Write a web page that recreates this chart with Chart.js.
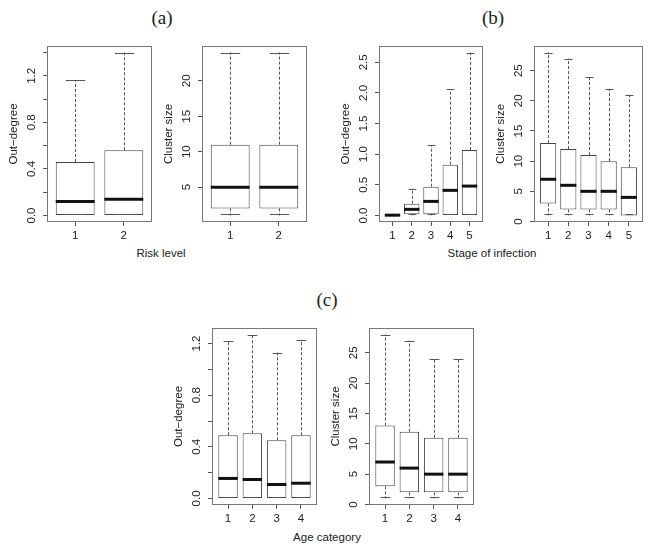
<!DOCTYPE html>
<html>
<head>
<meta charset="utf-8">
<script src="https://cdn.jsdelivr.net/npm/chart.js@4.4.1/dist/chart.umd.min.js"></script>
<style>
  body { margin: 0; background: #fff; }
  #page { position: relative; width: 649px; height: 552px; overflow: hidden;
          font-family: "Liberation Sans", Arial, sans-serif; color: #222; }
  canvas { position: absolute; }
  .tag { position: absolute; font-family: "Liberation Serif", serif; font-size: 19px;
         transform: translate(-50%, -50%); white-space: nowrap; }
  .xlab { position: absolute; font-size: 11.5px; transform: translate(-50%, -50%); white-space: nowrap; }
</style>
</head>
<body>
<div id="page">
  <div class="tag" style="left:162px;top:18px">(a)</div>
  <div class="tag" style="left:493px;top:18px">(b)</div>
  <div class="tag" style="left:327px;top:300px">(c)</div>
  <div class="xlab" style="left:161px;top:253px">Risk level</div>
  <div class="xlab" style="left:492px;top:253px">Stage of infection</div>
  <div class="xlab" style="left:327px;top:537px">Age category</div>
  <canvas id="aOut"></canvas>
  <canvas id="aClu"></canvas>
  <canvas id="bOut"></canvas>
  <canvas id="bClu"></canvas>
  <canvas id="cOut"></canvas>
  <canvas id="cClu"></canvas>
</div>
<script>
// categories
const riskLevels = ['1', '2'];
const stages = ['1', '2', '3', '4', '5'];
const ageCategories = ['1', '2', '3', '4'];

// (a) out-degree by risk level: lower whisker, Q1, median, Q3, upper whisker
const outRiskLow = [0, 0];
const outRiskQ1 = [0, 0];
const outRiskMed = [0.12, 0.14];
const outRiskQ3 = [0.46, 0.56];
const outRiskHigh = [1.16, 1.40];
// (a) cluster size by risk level
const cluRiskLow = [1, 1];
const cluRiskQ1 = [2, 2];
const cluRiskMed = [5, 5];
const cluRiskQ3 = [11, 11];
const cluRiskHigh = [24, 24];

// (b) out-degree by stage of infection
const outStageLow = [0, 0, 0, 0, 0];
const outStageQ1 = [0, 0.02, 0.02, 0, 0];
const outStageMed = [0.005, 0.10, 0.23, 0.41, 0.48];
const outStageQ3 = [0.015, 0.19, 0.47, 0.83, 1.07];
const outStageHigh = [0.03, 0.44, 1.15, 2.06, 2.66];
// (b) cluster size by stage of infection
const cluStageLow = [1, 1, 1, 1, 1];
const cluStageQ1 = [3, 2, 2, 2, 1];
const cluStageMed = [7, 6, 5, 5, 4];
const cluStageQ3 = [13, 12, 11, 10, 9];
const cluStageHigh = [28, 27, 24, 22, 21];

// (c) out-degree by age category
const outAgeLow = [0, 0, 0, 0];
const outAgeQ1 = [0, 0, 0, 0];
const outAgeMed = [0.155, 0.147, 0.108, 0.118];
const outAgeQ3 = [0.49, 0.505, 0.45, 0.49];
const outAgeHigh = [1.22, 1.27, 1.13, 1.23];
// (c) cluster size by age category
const cluAgeLow = [1, 1, 1, 1];
const cluAgeQ1 = [3, 2, 2, 2];
const cluAgeMed = [7, 6, 5, 5];
const cluAgeQ3 = [13, 12, 11, 11];
const cluAgeHigh = [28, 27, 24, 24];

// tick values and labels
const outTicksA = [0, 0.2, 0.4, 0.6, 0.8, 1.0, 1.2, 1.4];
const outLabelsA = ['0.0', '', '0.4', '', '0.8', '', '1.2', ''];
const cluTicksA = [5, 10, 15, 20];
const cluLabelsA = ['5', '10', '15', '20'];
const outTicksB = [0, 0.5, 1.0, 1.5, 2.0, 2.5];
const outLabelsB = ['0.0', '0.5', '1.0', '1.5', '2.0', '2.5'];
const cluTicksBC = [0, 5, 10, 15, 20, 25];
const cluLabelsBC = ['0', '5', '10', '15', '20', '25'];
const outTicksC = [0, 0.2, 0.4, 0.6, 0.8, 1.0, 1.2];
const outLabelsC = ['0.0', '', '0.4', '', '0.8', '', '1.2'];

const FONT = '"Liberation Sans", Arial, sans-serif';
const AXIS_W = 45, AXIS_H = 40;

function makePanel(id, box, cats, low, q1, med, q3, high, yTicks, yLabels, yTitle) {
  const [L, T, R, B] = box;
  const canvas = document.getElementById(id);
  canvas.width = R - L + AXIS_W + 5;
  canvas.height = B - T + AXIS_H + 5;
  canvas.style.left = (L - AXIS_W) + 'px';
  canvas.style.top = (T - 5) + 'px';

  // R style ranges: 4% extension
  const lo = Math.min(...low), hi = Math.max(...high);
  const ext = (hi - lo) * 0.04;
  const n = cats.length;

  const boxParts = {
    id: 'boxParts',
    afterDatasetsDraw(chart) {
      const {ctx, chartArea, scales: {x, y}} = chart;
      const meta = chart.getDatasetMeta(0);
      const seg = (x1, y1, x2, y2) => { ctx.beginPath(); ctx.moveTo(x1, y1); ctx.lineTo(x2, y2); ctx.stroke(); };
      ctx.save();
      meta.data.forEach((bar, i) => {
        const cx = Math.round(bar.x) + 0.5, w = bar.width;
        const pLow = y.getPixelForValue(low[i]);
        const pQ1 = y.getPixelForValue(q1[i]);
        const pMed = y.getPixelForValue(med[i]);
        const pQ3 = y.getPixelForValue(q3[i]);
        const pHigh = y.getPixelForValue(high[i]);
        ctx.strokeStyle = '#555';
        ctx.lineWidth = 1;
        ctx.setLineDash([3, 2]);
        seg(cx, pQ3, cx, pHigh);
        seg(cx, pQ1, cx, pLow);
        ctx.setLineDash([]);
        seg(cx - w / 4, Math.round(pHigh) + 0.5, cx + w / 4, Math.round(pHigh) + 0.5);
        seg(cx - w / 4, Math.round(pLow) - 0.5, cx + w / 4, Math.round(pLow) - 0.5);
        ctx.strokeStyle = '#111';
        ctx.lineWidth = 3;
        seg(bar.x - w / 2, pMed, bar.x + w / 2, pMed);
      });
      // plot frame
      ctx.strokeStyle = '#777';
      ctx.lineWidth = 1;
      ctx.strokeRect(chartArea.left + 0.5, chartArea.top + 0.5,
                     chartArea.right - chartArea.left - 1, chartArea.bottom - chartArea.top - 1);
      // rotated y tick labels
      ctx.fillStyle = '#222';
      ctx.font = '11.5px ' + FONT;
      ctx.textAlign = 'center';
      ctx.textBaseline = 'middle';
      y.ticks.forEach((t, i) => {
        if (!yLabels[i]) return;
        ctx.save();
        ctx.translate(chartArea.left - 15, y.getPixelForValue(t.value));
        ctx.rotate(-Math.PI / 2);
        ctx.fillText(yLabels[i], 0, 0);
        ctx.restore();
      });
      ctx.restore();
    }
  };

  new Chart(canvas, {
    type: 'bar',
    data: {
      datasets: [{
        data: cats.map((c, i) => ({x: i + 1, y: [q1[i], q3[i]]})),
        backgroundColor: '#fff',
        borderColor: '#444',
        borderWidth: 1,
        borderSkipped: false,
        barPercentage: 0.8,
        categoryPercentage: 1
      }]
    },
    options: {
      responsive: false,
      animation: false,
      events: [],
      layout: { padding: { top: 5, right: 5, left: 0, bottom: 0 } },
      plugins: { legend: { display: false }, tooltip: { enabled: false } },
      scales: {
        x: {
          type: 'linear',
          offset: false,
          min: 0.5 - 0.04 * n,
          max: n + 0.5 + 0.04 * n,
          afterBuildTicks: s => { s.ticks = cats.map((c, i) => ({value: i + 1})); },
          afterFit: s => { s.height = AXIS_H; },
          border: { display: false },
          grid: { offset: false, drawOnChartArea: false, drawTicks: true, tickLength: 4, color: '#555' },
          ticks: {
            autoSkip: false, maxRotation: 0, padding: 3, color: '#222',
            font: { family: FONT, size: 11.5 },
            callback: (v, i) => cats[i]
          }
        },
        y: {
          min: lo - ext,
          max: hi + ext,
          afterBuildTicks: s => { s.ticks = yTicks.map(v => ({value: v})); },
          afterFit: s => { s.width = AXIS_W; },
          border: { display: false },
          grid: { drawOnChartArea: false, drawTicks: true, tickLength: 4, color: '#555' },
          ticks: { display: false },
          title: {
            display: true, text: yTitle, color: '#222',
            font: { family: FONT, size: 11.5 },
            padding: { top: 5, bottom: 0 }
          }
        }
      }
    },
    plugins: [boxParts]
  });
}

makePanel('aOut', [47, 46, 152, 222], riskLevels, outRiskLow, outRiskQ1, outRiskMed, outRiskQ3, outRiskHigh, outTicksA, outLabelsA, 'Out\u2212degree');
makePanel('aClu', [202, 46, 307, 222], riskLevels, cluRiskLow, cluRiskQ1, cluRiskMed, cluRiskQ3, cluRiskHigh, cluTicksA, cluLabelsA, 'Cluster size');
makePanel('bOut', [379, 46, 483, 222], stages, outStageLow, outStageQ1, outStageMed, outStageQ3, outStageHigh, outTicksB, outLabelsB, 'Out\u2212degree');
makePanel('bClu', [534, 46, 643, 222], stages, cluStageLow, cluStageQ1, cluStageMed, cluStageQ3, cluStageHigh, cluTicksBC, cluLabelsBC, 'Cluster size');
makePanel('cOut', [212, 328, 317, 505], ageCategories, outAgeLow, outAgeQ1, outAgeMed, outAgeQ3, outAgeHigh, outTicksC, outLabelsC, 'Out\u2212degree');
makePanel('cClu', [369, 328, 474, 505], ageCategories, cluAgeLow, cluAgeQ1, cluAgeMed, cluAgeQ3, cluAgeHigh, cluTicksBC, cluLabelsBC, 'Cluster size');
</script>
</body>
</html>
